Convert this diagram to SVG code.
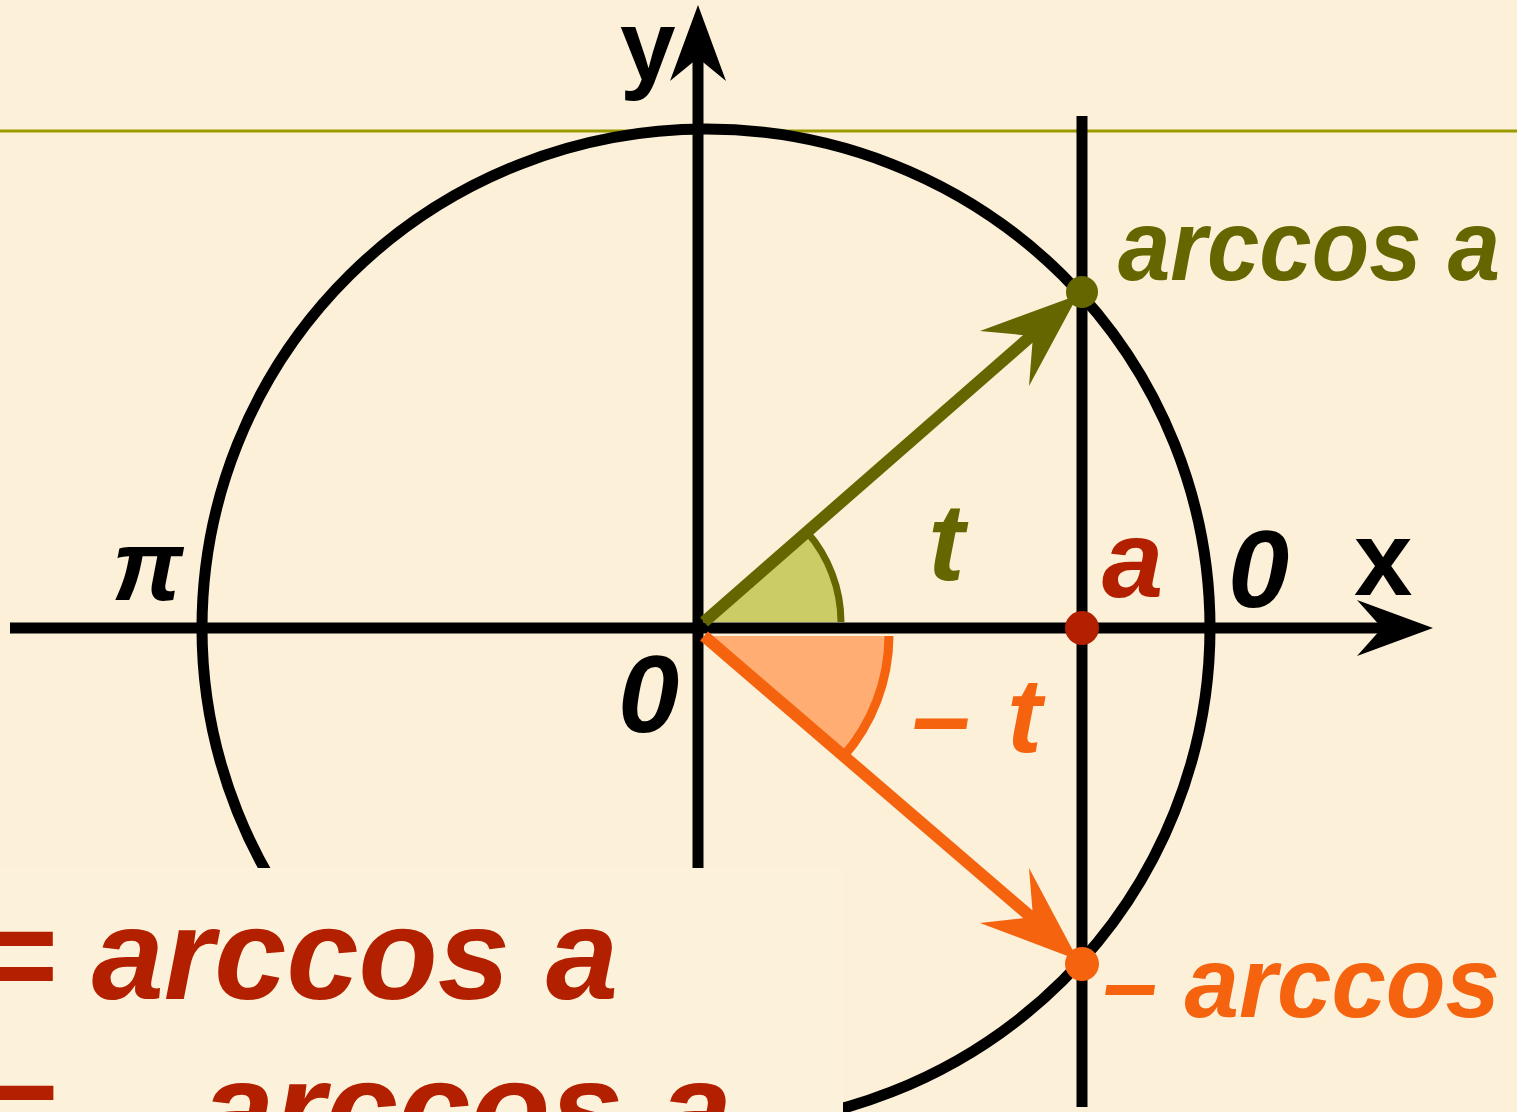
<svg xmlns="http://www.w3.org/2000/svg" width="1517" height="1112" viewBox="0 0 1517 1112">
<style>
.lbl{font-family:"Liberation Sans",Arial,sans-serif;font-weight:bold;font-style:italic}
.up{font-style:normal}
.blk{fill:#000}
.olive{fill:#666600}
.red{fill:#B32000}
.orange{fill:#F5630F}
.ax{stroke:#000;stroke-width:11;fill:none}
</style>
<rect x="0" y="0" width="1517" height="1112" fill="#FCF0D8"/>
<line x1="0" y1="131" x2="1517" y2="131" stroke="#9A9A00" stroke-width="3"/>
<g id="wedges">
<path d="M704 622 L841 622 A137 137 0 0 0 807 532 Z" fill="#CCCC66"/>
<path d="M841 622 A137 137 0 0 0 807 532" fill="none" stroke="#666600" stroke-width="7"/>
<path d="M704 636 L889 636 A185 185 0 0 1 843 757 Z" fill="#FFAD73"/>
<path d="M889 636 A185 185 0 0 1 843 757" fill="none" stroke="#F5630F" stroke-width="9"/>
</g>
<g id="circle">
<ellipse cx="706" cy="628" rx="504" ry="499" class="ax"/>
</g>
<g id="connectors">
<line x1="10" y1="628" x2="1385" y2="628" class="ax"/>
<polygon points="1433,628 1357,656 1382,628 1357,600" fill="#000"/>
<line x1="698" y1="868" x2="698" y2="55" class="ax"/>
<polygon points="698,5 726,81 698,58 670,81" fill="#000"/>
<line x1="1082" y1="116" x2="1082" y2="1107" class="ax"/>
<line x1="704" y1="622" x2="1038" y2="330" stroke="#666600" stroke-width="12"/>
<polygon points="1078,295 1029,386 1033,336 980,331" fill="#666600"/>
<line x1="704" y1="636" x2="1038" y2="923" stroke="#F5630F" stroke-width="12"/>
<polygon points="1078,960 980,923 1033,917 1029,868" fill="#F5630F"/>
</g>
<g id="point-green"><circle cx="1082" cy="292" r="16" fill="#666600"/></g>
<g id="point-red"><circle cx="1082" cy="628" r="17" fill="#B32000"/></g>
<g id="point-orange"><circle cx="1082" cy="964" r="17" fill="#F5630F"/></g>
<g id="labels">
<text class="lbl up blk" x="620" y="80" font-size="100">y</text>
<text class="lbl up blk" x="1354" y="595" font-size="105">x</text>
<text class="lbl blk" x="1228" y="607" font-size="110">0</text>
<text class="lbl blk" x="618" y="732" font-size="110">0</text>
<text class="lbl blk" x="112" y="600" font-size="100">π</text>
<text class="lbl olive" x="1118" y="280" font-size="100" textLength="382" lengthAdjust="spacingAndGlyphs">arccos a</text>
<text class="lbl olive" x="928" y="580" font-size="110">t</text>
<text class="lbl red" x="1102" y="597" font-size="110">a</text>
<text class="lbl orange" x="912" y="752" font-size="105" textLength="130" lengthAdjust="spacing">– t</text>
<text class="lbl orange" x="1103" y="1017" font-size="100" textLength="397" lengthAdjust="spacingAndGlyphs">– arccos</text>
</g>
<g id="formula-box">
<rect x="0" y="868" width="843" height="244" fill="#FCF1DA"/>
<text class="lbl red" x="-20" y="999" font-size="130" textLength="638" lengthAdjust="spacingAndGlyphs">= arccos a</text>
<text class="lbl red" x="-20" y="1153" font-size="130" textLength="752" lengthAdjust="spacingAndGlyphs">= – arccos a</text>
</g>
</svg>
